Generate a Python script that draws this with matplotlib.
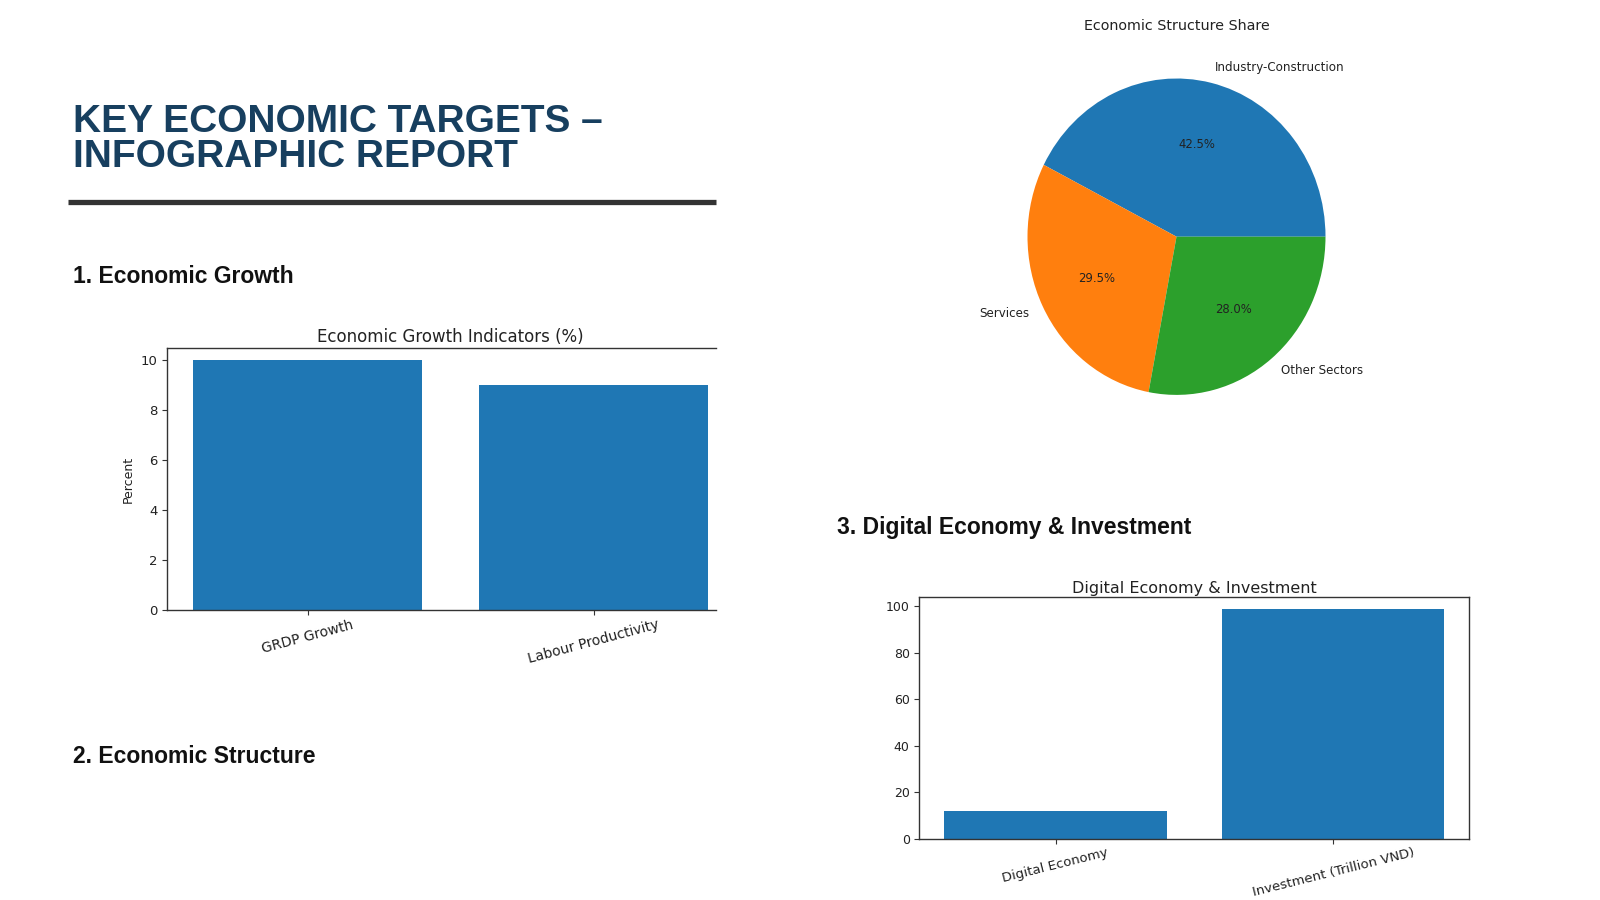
import matplotlib
matplotlib.use("Agg")
import matplotlib.pyplot as plt
from matplotlib.lines import Line2D

# ---------------- data ----------------
growth_labels = ["GRDP Growth", "Labour Productivity"]
growth_values = [10, 9]

structure_labels = ["Industry-Construction", "Services", "Other Sectors"]
structure_values = [42.5, 29.5, 28.0]

digital_labels = ["Digital Economy", "Investment (Trillion VND)"]
digital_values = [12, 99]

main_title_1 = "KEY ECONOMIC TARGETS \u2013"
main_title_2 = "INFOGRAPHIC REPORT"
headings = ["1. Economic Growth", "2. Economic Structure", "3. Digital Economy & Investment"]

# ---------------- layout helpers ----------------
W, H = 1600, 900
fig = plt.figure(figsize=(16, 9), dpi=100)
fig.patch.set_facecolor("white")


def rect(l, t, r, b):
    return [l / W, 1 - b / H, (r - l) / W, (b - t) / H]


def fx(x):
    return x / W


def fy(y):
    return 1 - y / H


HEAD_FONT = ["Liberation Sans", "DejaVu Sans"]
CHART_FONT = ["DejaVu Sans"]
NAVY = "#173f5f"
AX_COL = "#333333"
BLUE = "#1f77b4"

# ---------------- slide text ----------------
fig.text(fx(73), fy(132.3), main_title_1, family=HEAD_FONT, weight="bold",
         fontsize=28, color=NAVY, va="baseline", ha="left")
fig.text(fx(73), fy(167.3), main_title_2, family=HEAD_FONT, weight="bold",
         fontsize=28, color=NAVY, va="baseline", ha="left")
fig.add_artist(Line2D([fx(68), fx(716)], [fy(202), fy(202)], color="#333333",
                      lw=3.8, solid_capstyle="butt", transform=fig.transFigure))

fig.text(fx(72.7), fy(282.7), headings[0], family=HEAD_FONT, weight="bold",
         fontsize=16.5, color="#111111", va="baseline")
fig.text(fx(72.7), fy(763), headings[1], family=HEAD_FONT, weight="bold",
         fontsize=16.5, color="#111111", va="baseline")
fig.text(fx(837.3), fy(534.3), headings[2], family=HEAD_FONT, weight="bold",
         fontsize=16.5, color="#111111", va="baseline")


def style_axes(ax):
    for s in ax.spines.values():
        s.set_color(AX_COL)
        s.set_linewidth(1.0)
    ax.tick_params(colors=AX_COL, labelcolor="#222222")


# ---------------- chart 1: growth bars ----------------
ax1 = fig.add_axes(rect(167.3, 348, 716, 610))
ax1.bar(range(len(growth_values)), growth_values, width=0.8, color=BLUE)
ax1.set_xlim(-0.49, 1.427)
ax1.set_ylim(0, 10.5)
ax1.set_xticks(range(len(growth_labels)))
ax1.set_xticklabels(growth_labels, rotation=15, fontsize=10, family=CHART_FONT)
ax1.set_yticks([0, 2, 4, 6, 8, 10])
ax1.tick_params(axis="y", labelsize=9.5)
ax1.tick_params(axis="x", pad=2)
style_axes(ax1)
ax1.spines["right"].set_visible(False)
ax1.set_ylabel("Percent", fontsize=9, family=CHART_FONT, color="#222222")
ax1.yaxis.set_label_coords((134.5 - 167.3) / (716 - 167.3), 0.5)
fig.text(fx(450.7), fy(342.5), "Economic Growth Indicators (%)", fontsize=12,
         family=CHART_FONT, ha="center", va="baseline", color="#222222")

# ---------------- chart 2: structure pie ----------------
cx, cy, rx, ry = 1176.5, 236.7, 149, 158.2
ax2 = fig.add_axes(rect(cx - 1.25 * rx, cy - 1.25 * ry, cx + 1.25 * rx, cy + 1.25 * ry))
wedges, texts, autotexts = ax2.pie(structure_values, labels=structure_labels,
                                   autopct="%1.1f%%", startangle=0,
                                   textprops={"fontsize": 8.6, "family": CHART_FONT,
                                              "color": "#222222"})
for t in autotexts:
    t.set_fontsize(8.4)
ax2.set_aspect("auto")
ax2.set_xlim(-1.25, 1.25)
ax2.set_ylim(-1.25, 1.25)
fig.text(fx(1176.5), fy(29.7), "Economic Structure Share", fontsize=10.3,
         family=CHART_FONT, ha="center", va="baseline", color="#222222")

# ---------------- chart 3: digital economy bars ----------------
ax3 = fig.add_axes(rect(919.4, 597, 1469.4, 838.8))
ax3.bar(range(len(digital_values)), digital_values, width=0.8, color=BLUE)
ax3.set_xticks(range(len(digital_labels)))
ax3.set_xticklabels(digital_labels, rotation=14, fontsize=9.5, family=CHART_FONT)
ax3.set_yticks([0, 20, 40, 60, 80, 100])
ax3.tick_params(axis="y", labelsize=9)
ax3.tick_params(axis="x", pad=2)
style_axes(ax3)
fig.text(fx(1194.4), fy(592.5), "Digital Economy & Investment", fontsize=11.5,
         family=CHART_FONT, ha="center", va="baseline", color="#222222")

fig.savefig("out.png", dpi=100, facecolor="white")
